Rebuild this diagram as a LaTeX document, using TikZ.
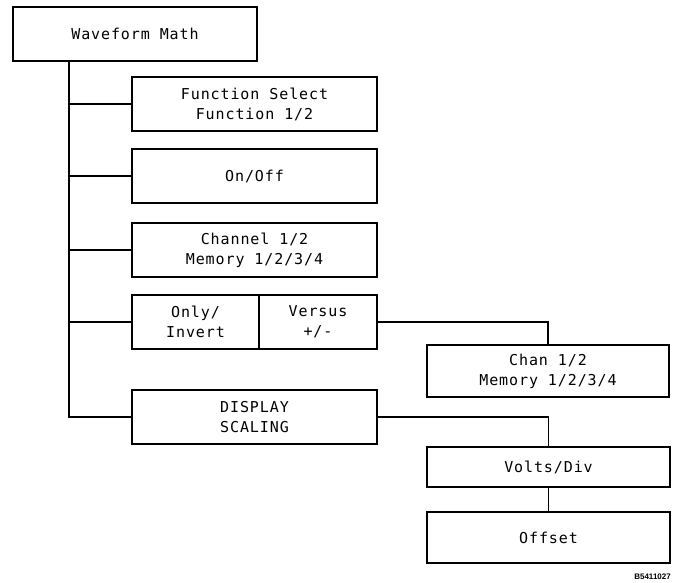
\documentclass[tikz,border=0pt]{standalone}
\usepackage{fontspec}
\newfontfamily\plotfont{DejaVu Sans Mono}[LetterSpace=6]
\newfontfamily\tagfont{Liberation Sans}
\usepackage{tikz}
\usetikzlibrary{positioning,calc}

\begin{document}
\begin{tikzpicture}[
    x=1pt, y=1pt,
    font=\plotfont\fontsize{15}{20}\selectfont,
    menu_box/.style={draw, line width=1.7pt, outer sep=0pt, inner sep=2pt, align=center, minimum width=245pt, minimum height=54pt},
    link/.style={line width=1.2pt}
]
\useasboundingbox (0,0) rectangle (673,-582);

\node (wm) [menu_box, minimum width=244pt, anchor=north west] at (13,-7) {Waveform Math};

\node (fsel) [menu_box, anchor=north west] at (132,-77) {Function Select\\Function 1/2};
\node (onoff) [menu_box, below=18pt of fsel] {On/Off};
\node (chsel) [menu_box, below=20pt of onoff] {Channel 1/2\\Memory 1/2/3/4};

\node (only) [menu_box, minimum width=127pt, below=18pt of chsel.south west, anchor=north west] {Only/\\Invert};
\node (versus) [menu_box, minimum width=118pt, right=0pt of only] {Versus\\+/-};
\node (chan) [menu_box, minimum width=242pt, minimum height=52pt, below right=-4pt and 50pt of versus.south east] {Chan 1/2\\Memory 1/2/3/4};

\node (disp) [menu_box, below=41pt of only.south west, anchor=north west] {DISPLAY\\SCALING};
\node (volts) [menu_box, minimum width=243pt, minimum height=40pt, below right=3pt and 50pt of disp.south east] {Volts/Div};
\node (offs) [menu_box, minimum width=243pt, minimum height=51pt, below=25pt of volts] {Offset};

\node (tag) [anchor=east, inner sep=0pt, font=\tagfont\bfseries\fontsize{8}{9}\selectfont] at (671,-577) {B5411027};

\coordinate (trunk) at ($(wm.south west)+(56,0)$);
\draw [link] (trunk) |- (disp.west);
\draw [link] (trunk |- fsel.west) -- (fsel.west);
\draw [link] (trunk |- onoff.west) -- (onoff.west);
\draw [link] (trunk |- chsel.west) -- (chsel.west);
\draw [link] (trunk |- only.west) -- (only.west);
\draw [link] (versus.east) -| (chan.north);
\draw [link] (disp.east) -| (volts.north);
\draw [link] (volts.south) -- (offs.north);

\end{tikzpicture}
\end{document}
